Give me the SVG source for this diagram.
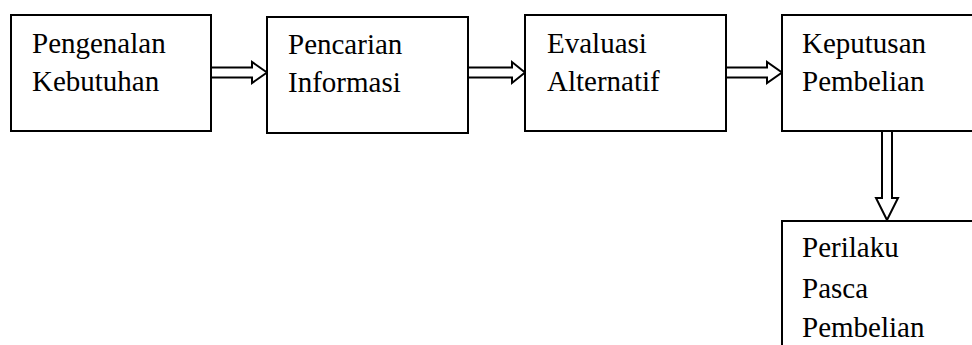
<svg xmlns="http://www.w3.org/2000/svg" width="972" height="345" viewBox="0 0 972 345">
<style>
.box{fill:#fff;stroke:#000;stroke-width:2}
.arr{fill:#fff;stroke:#000;stroke-width:2;stroke-linejoin:miter}
text{font-family:"Liberation Serif","Times New Roman",serif;font-size:29px;fill:#000}
</style>
<rect width="972" height="345" fill="#fff"/>
<g id="connectors">
<polygon class="arr" points="211,67.5 252,67.5 252,62 267,72.5 252,83 252,77.5 211,77.5"/>
<polygon class="arr" points="468,67.5 512,67.5 512,62 525,72.5 512,83 512,77.5 468,77.5"/>
<polygon class="arr" points="726,67.5 767,67.5 767,62 782,72.5 767,83 767,77.5 726,77.5"/>
<polygon class="arr" points="882,131 892,131 892,198 898,198 887,220 876,198 882,198"/>
</g>
<g id="n1"><rect class="box" x="11" y="15" width="200" height="116"/><text x="32" y="53">Pengenalan</text><text x="32" y="91">Kebutuhan</text></g>
<g id="n2"><rect class="box" x="267" y="17" width="201" height="116"/><text x="288" y="54">Pencarian</text><text x="288" y="92">Informasi</text></g>
<g id="n3"><rect class="box" x="525" y="15" width="201" height="116"/><text x="547" y="53">Evaluasi</text><text x="547" y="91">Alternatif</text></g>
<g id="n4"><rect class="box" x="782" y="15" width="210" height="116"/><text x="802" y="53">Keputusan</text><text x="802" y="91">Pembelian</text></g>
<g id="n5"><rect class="box" x="782" y="221" width="210" height="140"/><text x="802" y="257">Perilaku</text><text x="802" y="298">Pasca</text><text x="802" y="337">Pembelian</text></g>
</svg>
